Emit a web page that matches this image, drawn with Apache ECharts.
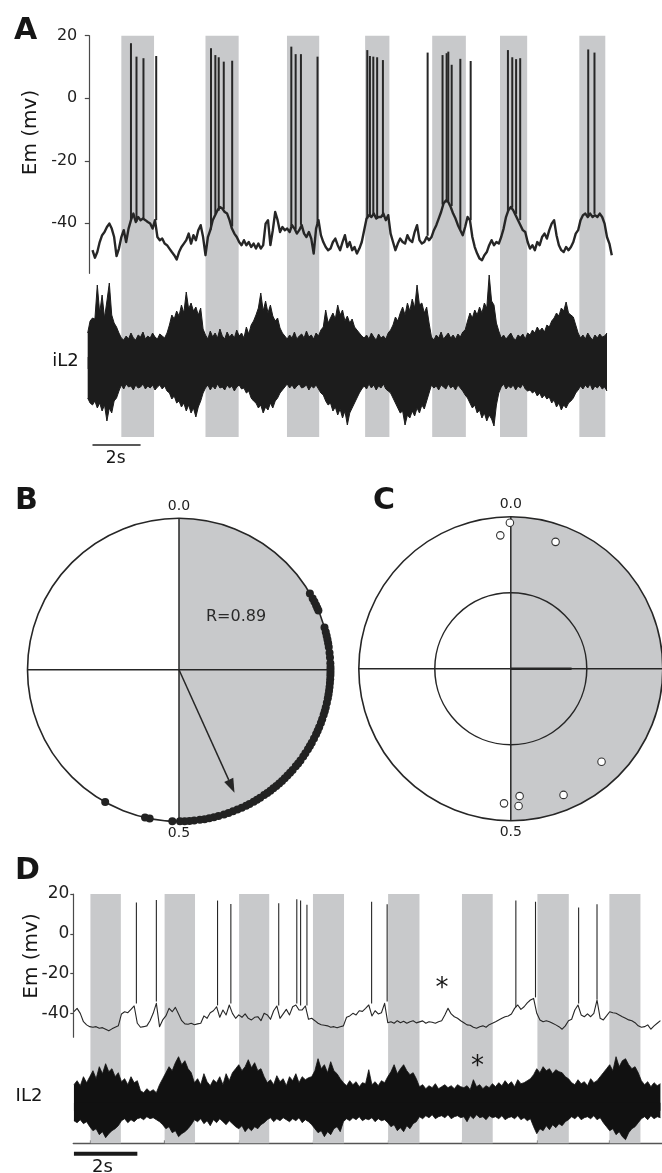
<!DOCTYPE html>
<html><head><meta charset="utf-8">
<script src="https://cdn.jsdelivr.net/npm/echarts@6/dist/echarts.min.js"></script>
<style>html,body{margin:0;padding:0;background:#fff}#c{width:662px;height:1173px}</style>
</head><body><div id="c"></div>
<script>
// ---------- DATA ----------
const DT = 0.1; // sampling step of the read-off traces (s)

// Panel A: membrane potential (mV), sampled every 0.1 s from t = 0
const emA_t0 = 0;
const emA = [
-48.6,-51,-49.2,-46,-43.8,-42.8,-41.2,-40.1,-41.7,-44.4,
-50.5,-48.1,-44.4,-42.2,-46,-41.7,-39,-36.9,-39.6,-38,
-39,-38.5,-39,-39.6,-40.1,-41.7,-39,-44.4,-45.4,-44.9,
-46.5,-47,-48.1,-49.2,-50.2,-51.6,-49.2,-47.6,-46.5,-45.4,
-43.3,-46.5,-43.8,-45.4,-42.2,-40.6,-44.4,-50.2,-44.4,-42.2,
-39,-37.4,-35.8,-34.8,-35.3,-36.4,-36.9,-39,-41.7,-43.3,
-44.4,-46,-47,-45.4,-47,-46,-47.6,-46.5,-48.1,-46.5,
-48.1,-47,-40.1,-39,-47,-42.2,-36.4,-39,-42.8,-41.2,
-42.2,-41.7,-42.8,-40.6,-41.7,-43.3,-42.2,-40.6,-43.3,-44.4,
-42.8,-44.9,-49.7,-41.7,-39,-43.8,-46,-47.6,-48.6,-48.1,
-46,-44.9,-47,-48.6,-46,-43.8,-47.6,-46,-48.6,-47.6,
-49.7,-48.1,-46,-42.2,-38.5,-37.4,-38,-36.9,-38.5,-38,
-38,-36.9,-39,-37.4,-43.3,-46,-48.6,-46.5,-44.9,-46,
-46.5,-43.8,-45.4,-46,-42.8,-40.6,-45.4,-46.5,-46,-44.4,
-45.4,-44.4,-42.2,-40.6,-38.5,-36.4,-33.7,-32.7,-33.2,-34.8,
-36.9,-38.5,-40.6,-42.2,-43.8,-41.2,-38,-39,-44.4,-47.6,
-49.7,-51.3,-51.8,-50.2,-49.2,-47,-45.4,-47,-46,-46.5,
-44.4,-41.7,-38,-35.8,-34.8,-35.8,-37.4,-39,-40.6,-42.2,
-42.8,-46,-48.1,-47,-48.6,-46,-47,-44.4,-43.3,-44.9,
-42.2,-40.1,-39,-43.8,-47,-48.6,-49.2,-47.6,-48.6,-47.6,
-46,-43.3,-42.2,-39,-37.4,-36.9,-38,-36.9,-38,-37.4,
-38,-36.9,-38,-40.1,-44.4,-46.5,-50.2
];
// Panel A spikes: [time s, base mV, peak mV]
const spikesA = [
[1.60,-39,17.6],[1.83,-39.5,13.3],[2.12,-38.5,12.8],[2.65,-39,13.5],
[4.93,-42,16.0],[5.11,-37,13.8],[5.25,-36,13.1],[5.46,-35.5,11.7],[5.81,-41,12.0],
[8.27,-41,16.5],[8.45,-42,14.1],[8.67,-40.5,14.1],[9.36,-40,13.3],
[11.43,-38.5,15.4],[11.54,-37.5,13.5],[11.68,-37,13.3],[11.84,-38,13.1],[12.08,-38,12.2],
[13.94,-44,14.6],[14.56,-34,13.8],[14.73,-33,14.4],[14.80,-33,14.9],[14.94,-34.5,10.7],[15.30,-42,12.6],[15.73,-39,11.9],
[17.28,-36,15.4],[17.46,-35,13.1],[17.62,-37,12.5],[17.79,-39,12.8],
[20.62,-38,15.6],[20.88,-37,14.6]
];
// Panel A iL2 envelope (upper / lower, a.u.), every 0.1 s from t = -0.2
const il2A_t0 = -0.2;
const il2A_hi = [
30,42,45,44,78,50,68,45,62,80,48,40,36,30,
25,23,27,24,30,25,23,28,26,31,24,27,25,30,26,24,29,27,25,30,
38,48,44,52,47,58,50,71,54,60,52,56,48,55,34,
28,24,32,26,30,25,34,27,24,31,26,29,25,33,27,30,25,36,29,38,42,
48,55,70,52,62,50,58,47,42,45,35,30,
27,24,28,25,31,24,27,29,25,32,26,28,24,30,27,33,
36,53,40,45,50,44,58,48,53,42,47,40,44,36,33,30,27,
25,28,24,30,26,23,29,25,27,24,30,
33,38,46,42,50,56,48,60,52,64,55,78,58,60,50,56,40,
26,23,28,25,31,24,27,30,25,28,24,29,26,31,33,
42,50,45,53,48,56,50,60,55,88,62,58,40,32,
25,28,24,27,30,25,23,28,26,29,24,30,
28,33,30,36,32,35,31,38,36,42,45,50,47,55,52,61,50,48,46,38,30,
25,28,24,30,26,23,28,25,29,26,27,30
];
const il2A_lo = [
-35,-40,-42,-38,-45,-40,-48,-42,-58,-45,-50,-38,-35,-28,
-22,-26,-21,-24,-23,-27,-22,-25,-24,-21,-26,-23,-25,-22,-27,-24,-22,-26,-23,-28,
-30,-36,-33,-40,-38,-44,-40,-48,-42,-50,-45,-54,-44,-38,-30,
-25,-22,-27,-23,-26,-21,-25,-24,-27,-22,-25,-23,-28,-24,-22,-26,-25,-30,-28,-35,-38,
-40,-45,-42,-50,-44,-47,-40,-45,-38,-35,-30,-27,
-24,-21,-25,-22,-26,-23,-21,-25,-24,-22,-27,-23,-25,-22,-26,-30,
-32,-38,-42,-40,-48,-44,-52,-46,-55,-48,-62,-50,-45,-40,-35,-30,-26,
-23,-26,-21,-25,-22,-27,-23,-25,-21,-26,-28,
-30,-35,-40,-45,-50,-48,-62,-52,-55,-48,-53,-45,-50,-42,-46,-38,-30,
-22,-25,-23,-27,-22,-24,-26,-21,-25,-23,-27,-22,-25,-28,-32,
-35,-40,-45,-42,-50,-47,-55,-50,-58,-52,-56,-63,-42,-30,
-24,-21,-26,-23,-25,-22,-27,-23,-25,-21,-26,-28,
-27,-30,-28,-33,-30,-35,-32,-36,-34,-40,-37,-44,-40,-47,-42,-45,-40,-38,-35,-30,-27,
-23,-26,-22,-25,-21,-27,-23,-25,-22,-26,-24,-28
];
// Panel A gray bands [start s, end s]
const bandsA = [[1.20,2.56],[4.70,6.08],[8.09,9.43],[11.34,12.35],[14.13,15.53],[16.95,18.08],[20.25,21.33]];

// Panel D: membrane potential (mV), every 0.1 s from t = 0
const emD_t0 = 0;
const emD = [
-39.2,-37.5,-40,-44.2,-45.8,-46.7,-47,-46.7,-47.5,-47.2,
-48,-48.8,-47.8,-47,-46.3,-40.3,-39.2,-39.7,-38,-36.3,
-45,-47,-46.7,-46.3,-43.7,-40,-35,-46.7,-43.3,-41.3,
-37.5,-39.2,-37,-40.3,-43.7,-45.3,-45.5,-45,-45.7,-45.3,
-45,-41.3,-42.5,-39.7,-38.7,-36.7,-42,-38.3,-40.8,-35.8,
-40,-42.5,-40.8,-42,-40.3,-42.5,-43.3,-42,-41.7,-43.7,
-40,-40.8,-43,-38.7,-36.3,-42.5,-40.3,-38,-40.8,-36.7,
-35.8,-38.3,-38.3,-36.3,-43,-42.5,-43.7,-45,-45.7,-46,
-46.3,-47,-46.7,-47.3,-46.7,-46.3,-42,-41.3,-40,-40.8,
-38.7,-39,-37.5,-35.8,-41.3,-38.7,-40.3,-39.7,-35,-44.7,
-44.2,-45,-43.7,-44.7,-44,-45,-44.2,-43.7,-44.8,-44.3,
-43.8,-45,-44.2,-44.5,-45,-44.2,-43.7,-40.8,-37.5,-40.3,
-41.7,-42.5,-43.7,-44.7,-45.8,-46,-47,-47.5,-46.7,-46.3,
-47,-45.7,-45,-44.2,-43.3,-42.5,-41.7,-41.3,-40.3,-37.5,
-35.8,-38,-36.7,-34.7,-33.3,-32.5,-40,-43.3,-44.2,-43.7,
-44.2,-45,-45.8,-46.7,-48,-46.3,-43.7,-43,-38.3,-35.8,
-40.8,-41.7,-40.3,-41.7,-40,-33.3,-42.5,-43.3,-41.3,-39.2,
-39.7,-40,-40.8,-41.7,-42.5,-43.3,-43.7,-44.7,-46.3,-47,
-46.7,-45.8,-48,-46.3,-45,-43.7
];
const spikesD = [
[1.97,-35,15.7],[2.60,-34,17],[4.53,-36,16.7],[4.95,-35,15],[6.46,-36,15.4],
[7.03,-35,17.4],[7.15,-36,16.7],[7.35,-36,14.6],[9.39,-35,16.1],[9.88,-34,14.8],
[13.94,-37,16.7],[14.56,-32,16.1],[15.92,-35,13.2],[16.50,-33,14.8]
];
const il2D_t0 = 0;
const il2D_hi = [
22,26,21,30,24,
30,36,28,40,33,43,35,38,30,34,
25,28,22,30,24,26,
16,14,18,15,17,14,22,
28,34,40,36,44,50,42,46,38,34,
24,28,22,33,25,21,27,24,30,22,33,26,
34,38,42,36,40,47,39,44,36,38,30,
24,27,22,31,25,28,21,30,26,33,24,30,27,29,
30,36,48,38,42,34,45,36,33,28,
24,21,26,22,25,20,24,23,37,22,25,21,26,24,
30,35,42,33,38,42,36,32,34,28,
20,22,18,21,19,23,18,20,22,19,21,18,22,20,
19,21,17,27,20,22,18,21,19,23,
20,24,21,26,22,25,20,27,23,24,26,28,
32,38,34,40,36,38,33,37,35,34,30,28,
24,22,27,23,25,21,28,24,26,30,
34,38,42,36,50,40,46,48,42,38,40,34,
26,22,25,20,24,21,23
];
const il2D_lo = [
-14,-16,-13,-17,-15,
-20,-24,-22,-28,-25,-31,-27,-24,-22,-19,
-14,-12,-16,-13,-15,-12,
-11,-13,-10,-12,-11,-13,-15,
-18,-22,-20,-26,-24,-30,-27,-25,-22,-18,
-13,-15,-12,-17,-14,-19,-13,-16,-12,-15,-18,-14,
-17,-20,-22,-19,-25,-21,-24,-20,-22,-18,-16,
-13,-11,-15,-12,-14,-11,-13,-15,-12,-14,-11,-16,-13,-15,
-18,-22,-26,-24,-30,-25,-28,-22,-20,-25,
-15,-12,-14,-11,-13,-10,-14,-12,-13,-11,-15,-12,-14,-13,
-16,-20,-18,-24,-21,-25,-19,-22,-17,-15,
-10,-12,-9,-11,-8,-12,-10,-9,-11,-8,-12,-10,-9,-11,
-10,-15,-9,-12,-8,-11,-10,-13,-9,-11,
-10,-12,-9,-13,-11,-10,-12,-9,-13,-11,-14,-12,
-20,-27,-22,-24,-19,-23,-18,-21,-17,-19,-15,-13,
-10,-12,-9,-13,-11,-10,-12,-9,-13,-11,
-16,-20,-24,-22,-28,-25,-30,-33,-26,-22,-20,-16,
-12,-10,-13,-9,-12,-10,-11
];
const bandsD = [[0.52,1.48],[2.86,3.82],[5.21,6.16],[7.54,8.52],[9.91,10.90],[12.24,13.21],[14.62,15.61],[16.89,17.87]];

// Panel B: spike phases (cycle fraction), all plotted on the unit circle
const phasesB = [
0.166,0.172,0.176,0.180,0.183,0.186,
0.205,0.210,0.214,0.218,0.222,0.226,0.232,0.237,
0.243,0.247,0.250,0.253,0.256,0.260,0.264,0.268,0.272,
0.276,0.280,0.285,0.290,0.294,0.298,0.303,0.307,0.312,0.316,0.320,0.325,0.330,0.334,0.338,0.343,0.347,
0.352,0.356,0.360,0.365,0.369,0.373,0.377,0.381,0.385,0.389,0.393,0.397,0.401,0.405,0.410,0.414,0.418,0.423,0.427,0.432,0.437,0.442,0.447,
0.452,0.458,0.463,0.468,0.473,0.478,0.484,0.489,0.494,0.499,
0.507,0.531,0.536,0.581
];
const meanPhaseB = 0.4325, meanRB = 0.89;
// Panel C: per-cell preferred phase and vector length
const phasesC = [0.999,0.9875,0.054,0.377,0.437,0.489,0.491,0.508];
const radiiC  = [0.96,0.88,0.885,0.855,0.90,0.84,0.905,0.887];
const meanPhaseC = 0.25, meanRC = 0.40;
const quadrantPhases = [0, 0.25, 0.5, 0.75];
const innerCircleC = 0.5;
const emTicks = [-40,-20,0,20];
const scaleBarSec = 2;

// ---------- BUILD ----------
const ser = (t0, arr) => arr.map((v, i) => [+(t0 + i * DT).toFixed(2), v]);
const FONT = '"DejaVu Sans", sans-serif';
const BAND = '#c8c9cb', INK = '#262626';

const bandRender = (params, api) => {
  const a = api.coord([api.value(0), 1]);
  const b = api.coord([api.value(1), 0]);
  return {type: 'rect', shape: {x: a[0], y: a[1], width: b[0] - a[0], height: b[1] - a[1]}, style: {fill: BAND}};
};
const spikeRender = (w) => (params, api) => {
  const a = api.coord([api.value(0), api.value(1)]);
  const b = api.coord([api.value(0), api.value(2)]);
  return {type: 'line', shape: {x1: a[0], y1: a[1], x2: b[0], y2: b[1]}, style: {stroke: INK, lineWidth: w}};
};
const vecRender = (arrow, w) => (params, api) => {
  const p0 = api.coord([0, api.value(1)]);
  const p1 = api.coord([api.value(0), api.value(1)]);
  if (!arrow) return {type: 'line', shape: {x1: p0[0], y1: p0[1], x2: p1[0], y2: p1[1]}, style: {stroke: INK, lineWidth: w}};
  const dx = p1[0] - p0[0], dy = p1[1] - p0[1], L = Math.hypot(dx, dy);
  const ux = dx / L, uy = dy / L, hl = 14, hw = 5;
  const bx = p1[0] - ux * hl, by = p1[1] - uy * hl;
  return {type: 'group', children: [
    {type: 'line', shape: {x1: p0[0], y1: p0[1], x2: bx, y2: by}, style: {stroke: INK, lineWidth: w}},
    {type: 'polygon', shape: {points: [[p1[0], p1[1]], [bx - uy * hw, by + ux * hw], [bx + uy * hw, by - ux * hw]]}, style: {fill: INK}}
  ]};
};
const circleRender = (params, api) => {
  const c = api.coord([0, 0]);
  const p = api.coord([api.value(0), 0]);
  return {type: 'circle', shape: {cx: c[0], cy: c[1], r: Math.hypot(p[0] - c[0], p[1] - c[1])},
    style: {fill: 'none', stroke: INK, lineWidth: 1.5}};
};
const hiddenX = (gi, min, max) => ({type: 'value', gridIndex: gi, min, max, show: false, splitLine: {show: false}});
const hiddenY = (gi, min, max) => ({type: 'value', gridIndex: gi, min, max, show: false, splitLine: {show: false}});
const emY = (gi, min, tickLen, margin, fs) => ({
  type: 'value', gridIndex: gi, min, max: 20,
  axisLine: {show: true, onZero: false, lineStyle: {color: '#4a4a4a', width: 1.2}},
  axisTick: {show: true, length: tickLen, customValues: emTicks, lineStyle: {color: '#4a4a4a', width: 1.2}},
  axisLabel: {show: true, customValues: emTicks, margin, fontSize: fs, fontFamily: FONT, color: '#1e1e1e'},
  splitLine: {show: false}
});
const txt = (text, x, y, size, opts = {}) => ({
  type: 'text', x, y, rotation: opts.rot || 0, z: 100,
  style: {text, font: (opts.bold ? 'bold ' : '') + size + 'px ' + FONT, fill: opts.color || '#161616',
    align: 'center', verticalAlign: 'middle', textAlign: 'center', textVerticalAlign: 'middle'}
});

const angleAx = (pi) => ({
  polarIndex: pi, type: 'value', min: 0, max: 1, interval: 0.25, startAngle: 90, clockwise: true,
  axisLine: {show: true, lineStyle: {color: INK, width: 1.6}},
  axisTick: {show: false},
  axisLabel: {show: true, margin: 5, fontSize: 14, fontFamily: FONT, color: '#1e1e1e',
    formatter: v => (v === 0 ? '0.0' : (v === 0.5 ? '0.5' : ''))},
  splitLine: {show: false},
  splitArea: {show: true, areaStyle: {color: [BAND, BAND, 'rgba(255,255,255,0)', 'rgba(255,255,255,0)']}}
});
const radiusAx = (pi) => ({polarIndex: pi, type: 'value', min: 0, max: 1, axisLine: {show: false}, axisTick: {show: false},
  axisLabel: {show: false}, splitLine: {show: false}});
const crossSeries = (pi) => ({type: 'custom', coordinateSystem: 'polar', polarIndex: pi, z: 3, silent: true,
  data: quadrantPhases.map(p => [1, p]), renderItem: vecRender(false, 1.5)});

const option = {
  animation: false,
  backgroundColor: '#fff',
  grid: [
    {left: 87.2, top: 35.7, width: 529.4, height: 401.3},   // 0 bands A
    {left: 89.3, top: 35.7, width: 527.3, height: 237.6},   // 1 Em A
    {left: 87.2, top: 273, width: 529.4, height: 180},      // 2 iL2 A
    {left: 73.3, top: 894, width: 588.7, height: 249.3},    // 3 bands D
    {left: 73.3, top: 894, width: 588.7, height: 143.2},    // 4 Em D
    {left: 73.3, top: 1050, width: 588.7, height: 93.3}     // 5 iL2 D
  ],
  xAxis: [
    hiddenX(0, -0.22, 21.8),
    hiddenX(1, -0.133, 21.8),
    hiddenX(2, -0.22, 21.8),
    hiddenX(3, -0.02, 18.55),
    hiddenX(4, -0.02, 18.55),
    {type: 'value', gridIndex: 5, min: -0.02, max: 18.55, position: 'bottom',
      axisLine: {show: true, onZero: false, lineStyle: {color: '#555', width: 1.4}},
      axisTick: {show: true, inside: true, length: 3, customValues: bandsD.map(b => b[0]), lineStyle: {color: '#555', width: 1.2}},
      axisLabel: {show: false}, splitLine: {show: false}}
  ],
  yAxis: [
    hiddenY(0, 0, 1),
    emY(1, -56, 4.5, 12, 16),
    hiddenY(2, -90, 90),
    hiddenY(3, 0, 1),
    emY(4, -52, 3, 4, 17),
    hiddenY(5, -36.6, 56.7)
  ],
  polar: [
    {center: [179, 669.8], radius: 151.5},
    {center: [510.8, 668.7], radius: 152}
  ],
  angleAxis: [angleAx(0), angleAx(1)],
  radiusAxis: [radiusAx(0), radiusAx(1)],
  series: [
    {type: 'custom', xAxisIndex: 0, yAxisIndex: 0, z: 1, data: bandsA, encode: {x: [0, 1]}, renderItem: bandRender, silent: true},
    {type: 'line', xAxisIndex: 1, yAxisIndex: 1, data: ser(emA_t0, emA), showSymbol: false, symbol: 'none',
      lineStyle: {color: INK, width: 2.4, join: 'round'}, z: 3},
    {type: 'custom', xAxisIndex: 1, yAxisIndex: 1, data: spikesA, encode: {x: 0, y: [1, 2]}, renderItem: spikeRender(2), z: 3},
    {type: 'line', xAxisIndex: 2, yAxisIndex: 2, data: ser(il2A_t0, il2A_hi), showSymbol: false, symbol: 'none',
      lineStyle: {color: '#1c1c1c', width: 1}, areaStyle: {origin: -6, color: '#1c1c1c', opacity: 1}, z: 3},
    {type: 'line', xAxisIndex: 2, yAxisIndex: 2, data: ser(il2A_t0, il2A_lo), showSymbol: false, symbol: 'none',
      lineStyle: {color: '#1c1c1c', width: 1}, areaStyle: {origin: 6, color: '#1c1c1c', opacity: 1}, z: 3},
    {type: 'line', xAxisIndex: 2, yAxisIndex: 2, data: [[0, -82], [scaleBarSec, -82]], showSymbol: false, symbol: 'none', clip: false,
      lineStyle: {color: '#222', width: 1.6}, z: 3},

    {type: 'custom', xAxisIndex: 3, yAxisIndex: 3, z: 1, data: bandsD, encode: {x: [0, 1]}, renderItem: bandRender, silent: true},
    {type: 'line', xAxisIndex: 4, yAxisIndex: 4, data: ser(emD_t0, emD), showSymbol: false, symbol: 'none',
      lineStyle: {color: INK, width: 1.1, join: 'round'}, z: 3},
    {type: 'custom', xAxisIndex: 4, yAxisIndex: 4, data: spikesD, encode: {x: 0, y: [1, 2]}, renderItem: spikeRender(1.1), z: 3},
    {type: 'line', xAxisIndex: 5, yAxisIndex: 5, data: ser(il2D_t0, il2D_hi), showSymbol: false, symbol: 'none',
      lineStyle: {color: '#111', width: 0.8}, areaStyle: {origin: -4, color: '#111', opacity: 1}, z: 3},
    {type: 'line', xAxisIndex: 5, yAxisIndex: 5, data: ser(il2D_t0, il2D_lo), showSymbol: false, symbol: 'none',
      lineStyle: {color: '#111', width: 0.8}, areaStyle: {origin: 4, color: '#111', opacity: 1}, z: 3},
    {type: 'line', xAxisIndex: 5, yAxisIndex: 5, data: [[0, -47], [scaleBarSec, -47]], showSymbol: false, symbol: 'none', clip: false,
      lineStyle: {color: '#1a1a1a', width: 4}, z: 3},

    crossSeries(0),
    crossSeries(1),
    {type: 'custom', coordinateSystem: 'polar', polarIndex: 1, z: 3, silent: true, data: [[innerCircleC, 0]], renderItem: circleRender},
    {type: 'scatter', coordinateSystem: 'polar', polarIndex: 0, data: phasesB.map(p => [1, p]), symbolSize: 8,
      itemStyle: {color: '#222', opacity: 1}, z: 4},
    {type: 'custom', coordinateSystem: 'polar', polarIndex: 0, data: [[meanRB, meanPhaseB]], renderItem: vecRender(true, 1.5), z: 4},
    {type: 'custom', coordinateSystem: 'polar', polarIndex: 1, data: [[meanRC, meanPhaseC]], renderItem: vecRender(false, 2.4), z: 4},
    {type: 'scatter', coordinateSystem: 'polar', polarIndex: 1, data: phasesC.map((p, i) => [radiiC[i], p]), symbolSize: 7.5,
      itemStyle: {color: '#fff', borderColor: '#333', borderWidth: 1.1, opacity: 1}, z: 5}
  ],
  graphic: [
    txt('A', 25.5, 31, 30, {bold: true}),
    txt('B', 26.4, 501.5, 30, {bold: true}),
    txt('C', 384, 501.5, 30, {bold: true}),
    txt('D', 27.4, 871, 30, {bold: true}),
    txt('Em (mv)', 31, 132.5, 20, {rot: Math.PI / 2}),
    txt('Em (mv)', 32, 956, 20, {rot: Math.PI / 2}),
    txt('iL2', 65.5, 361.7, 18),
    txt('IL2', 29, 1096.7, 18),
    txt('2s', 115.7, 459, 17),
    txt('2s', 102.5, 1167.5, 18),
    txt('R=0.89', 236, 616.7, 16, {color: '#2a2a2a'}),
    txt('*', 442, 989, 26),
    txt('*', 477.5, 1067, 26)
  ]
};
const chart = echarts.init(document.getElementById('c'), null, {renderer: 'canvas'});
chart.setOption(option);
</script>
</body></html>
